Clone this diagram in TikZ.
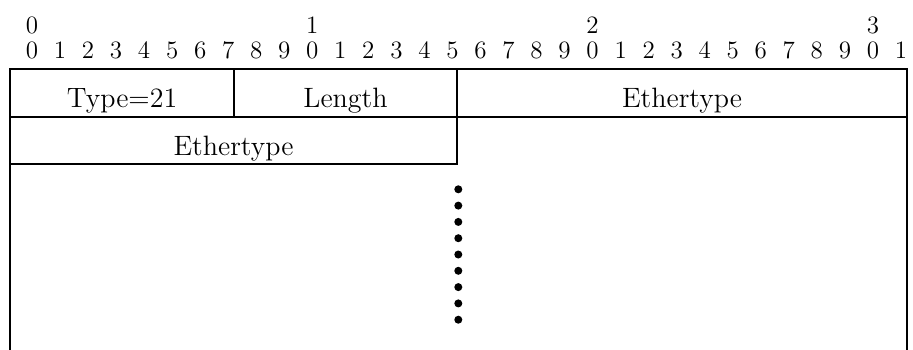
\documentclass[tikz,border=0pt]{standalone}
\begin{document}
\begin{tikzpicture}[x=0.5pt,y=-0.5pt,
  frame/.style={line width=0.75pt,line cap=rect},
  bitnum/.style={anchor=base,inner sep=0pt,font=\fontsize{12.5pt}{14pt}\selectfont},
  field/.style={anchor=base,inner sep=0pt,font=\fontsize{14pt}{16pt}\selectfont},
  dot/.style={circle,fill=black,inner sep=0pt,minimum size=4pt}]
\useasboundingbox (0,0) rectangle (913,349);
% bit numbers
\foreach \k in {0,...,31}{
  \pgfmathtruncatemacro{\u}{mod(\k,10)}
  \node[bitnum] (u\k) at ({32+28.03*\k},58) {\u};
}
\foreach \t/\k in {0/0,1/10,2/20,3/30}{
  \node[bitnum] (t\t) at ({32+28.03*\k},33.5) {\t};
}
% frame
\draw[frame] (10,349) -- (10,69) -- (907,69) -- (907,349);
\draw[frame] (10,117) -- (907,117);
\draw[frame] (10,164) -- (457,164);
\draw[frame] (234,69) -- (234,117);
\draw[frame] (457,69) -- (457,164);
% fields
\node[field] (type) at (122,107) {Type=21};
\node[field] (len) at (345.5,107) {Length};
\node[field] (eth1) at (682,107) {Ethertype};
\node[field] (eth2) at (233.5,155) {Ethertype};
% dots
\foreach \i in {0,...,8}{
  \node[dot] (d\i) at (458.3,{189.3+16.3*\i}) {};
}
\end{tikzpicture}
\end{document}
